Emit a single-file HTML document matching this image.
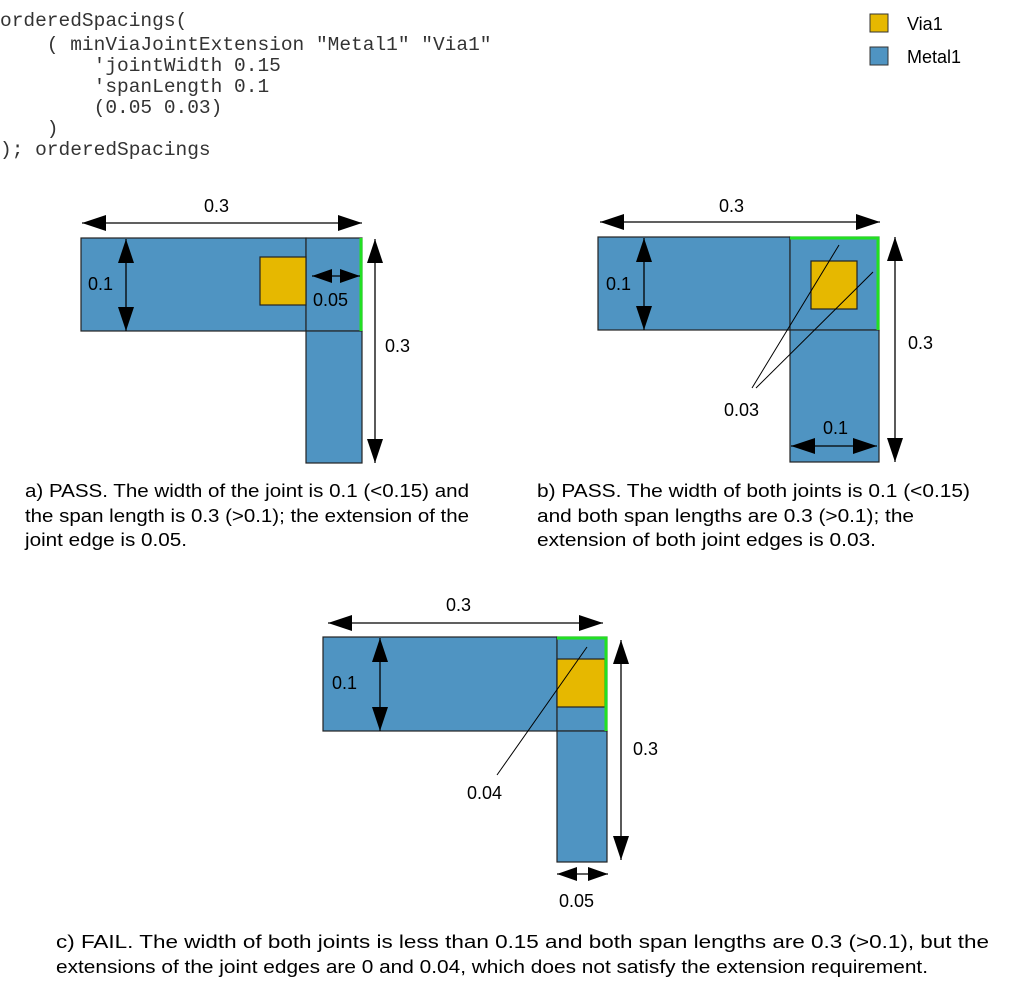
<!DOCTYPE html>
<html><head><meta charset="utf-8"><style>
html,body{margin:0;padding:0;background:#fff;}
svg{display:block;}
.m{font-family:"Liberation Mono",monospace;font-size:19.5px;fill:#333;}
.s{font-family:"Liberation Sans",sans-serif;font-size:18.5px;fill:#000;}
.l{font-family:"Liberation Sans",sans-serif;font-size:18px;fill:#000;}
</style></head><body>
<svg width="1013" height="999" viewBox="0 0 1013 999" xmlns="http://www.w3.org/2000/svg">
<defs>
<marker id="ah" viewBox="0 0 24 16" refX="24" refY="8" markerWidth="24" markerHeight="16" markerUnits="userSpaceOnUse" orient="auto-start-reverse"><path d="M0,0 L24,8 L0,16 Z" fill="#000"/></marker>
<marker id="as" viewBox="0 0 20 14" refX="20" refY="7" markerWidth="20" markerHeight="14" markerUnits="userSpaceOnUse" orient="auto-start-reverse"><path d="M0,0 L20,7 L0,14 Z" fill="#000"/></marker>
</defs>
<!-- code -->
<text class="m" x="0" y="26" xml:space="preserve">orderedSpacings(</text>
<text class="m" x="0" y="50" xml:space="preserve">    ( minViaJointExtension "Metal1" "Via1"</text>
<text class="m" x="0" y="71" xml:space="preserve">        'jointWidth 0.15</text>
<text class="m" x="0" y="92" xml:space="preserve">        'spanLength 0.1</text>
<text class="m" x="0" y="113" xml:space="preserve">        (0.05 0.03)</text>
<text class="m" x="0" y="134" xml:space="preserve">    )</text>
<text class="m" x="0" y="155" xml:space="preserve">); orderedSpacings</text>
<!-- legend -->
<rect x="870" y="14" width="18" height="18" fill="#e6b800" stroke="#333"/>
<text class="l" x="907" y="30">Via1</text>
<rect x="870" y="47" width="18" height="18" fill="#4f94c2" stroke="#333"/>
<text class="l" x="907" y="63">Metal1</text>

<!-- a -->
<g stroke="#222" stroke-width="1.2" fill="#4f94c2">
<rect x="81" y="238" width="225" height="93"/>
<rect x="306" y="238" width="56" height="93"/>
<rect x="306" y="331" width="56" height="132"/>
<rect x="260" y="257" width="46" height="48" fill="#e6b800"/>
</g>
<line x1="361" y1="238" x2="361" y2="331" stroke="#22e022" stroke-width="3"/>
<g stroke="#000" stroke-width="1.3">
<line x1="82" y1="223" x2="362" y2="223" marker-start="url(#ah)" marker-end="url(#ah)"/>
<line x1="126" y1="239" x2="126" y2="331" marker-start="url(#ah)" marker-end="url(#ah)"/>
<line x1="312" y1="276" x2="360" y2="276" marker-start="url(#as)" marker-end="url(#as)"/>
<line x1="375" y1="239" x2="375" y2="463" marker-start="url(#ah)" marker-end="url(#ah)"/>
</g>
<text class="l" x="204" y="212">0.3</text>
<text class="l" x="88" y="290">0.1</text>
<text class="l" x="313" y="306">0.05</text>
<text class="l" x="385" y="352">0.3</text>
<text class="s" x="25" y="497" textLength="444" lengthAdjust="spacingAndGlyphs">a) PASS. The width of the joint is 0.1 (&lt;0.15) and</text>
<text class="s" x="25" y="522" textLength="444" lengthAdjust="spacingAndGlyphs">the span length is 0.3 (&gt;0.1); the extension of the</text>
<text class="s" x="25" y="546" textLength="162" lengthAdjust="spacingAndGlyphs">joint edge is 0.05.</text>

<!-- b -->
<g stroke="#222" stroke-width="1.2" fill="#4f94c2">
<rect x="598" y="237" width="192" height="93"/>
<rect x="790" y="237" width="89" height="93"/>
<rect x="790" y="330" width="89" height="132"/>
<rect x="811" y="261" width="46" height="48" fill="#e6b800"/>
</g>
<polyline points="790,238 878,238 878,330" fill="none" stroke="#22e022" stroke-width="3"/>
<g stroke="#000" stroke-width="1.3">
<line x1="600" y1="222" x2="880" y2="222" marker-start="url(#ah)" marker-end="url(#ah)"/>
<line x1="644" y1="238" x2="644" y2="330" marker-start="url(#ah)" marker-end="url(#ah)"/>
<line x1="895" y1="237" x2="895" y2="462" marker-start="url(#ah)" marker-end="url(#ah)"/>
<line x1="791" y1="446" x2="877" y2="446" marker-start="url(#ah)" marker-end="url(#ah)"/>
<line x1="752" y1="388" x2="839" y2="245" stroke-width="1"/>
<line x1="756" y1="388" x2="873" y2="272" stroke-width="1"/>
</g>
<text class="l" x="719" y="212">0.3</text>
<text class="l" x="606" y="290">0.1</text>
<text class="l" x="908" y="349">0.3</text>
<text class="l" x="823" y="434">0.1</text>
<text class="l" x="724" y="416">0.03</text>
<text class="s" x="537" y="497" textLength="433" lengthAdjust="spacingAndGlyphs">b) PASS. The width of both joints is 0.1 (&lt;0.15)</text>
<text class="s" x="537" y="522" textLength="377" lengthAdjust="spacingAndGlyphs">and both span lengths are 0.3 (&gt;0.1); the</text>
<text class="s" x="537" y="546" textLength="339" lengthAdjust="spacingAndGlyphs">extension of both joint edges is 0.03.</text>

<!-- c -->
<g stroke="#222" stroke-width="1.2" fill="#4f94c2">
<rect x="323" y="637" width="234" height="94"/>
<rect x="557" y="637" width="50" height="94"/>
<rect x="557" y="731" width="50" height="131"/>
<rect x="557" y="659" width="48" height="48" fill="#e6b800"/>
</g>
<polyline points="557,638 606,638 606,731" fill="none" stroke="#22e022" stroke-width="3"/>
<g stroke="#000" stroke-width="1.3">
<line x1="328" y1="623" x2="603" y2="623" marker-start="url(#ah)" marker-end="url(#ah)"/>
<line x1="380" y1="638" x2="380" y2="731" marker-start="url(#ah)" marker-end="url(#ah)"/>
<line x1="621" y1="640" x2="621" y2="860" marker-start="url(#ah)" marker-end="url(#ah)"/>
<line x1="557" y1="874" x2="608" y2="874" marker-start="url(#as)" marker-end="url(#as)"/>
<line x1="497" y1="775" x2="587" y2="647" stroke-width="1"/>
</g>
<text class="l" x="446" y="611">0.3</text>
<text class="l" x="332" y="689">0.1</text>
<text class="l" x="633" y="755">0.3</text>
<text class="l" x="467" y="799">0.04</text>
<text class="l" x="559" y="907">0.05</text>
<text class="s" x="56" y="948" textLength="933" lengthAdjust="spacingAndGlyphs">c) FAIL. The width of both joints is less than 0.15 and both span lengths are 0.3 (&gt;0.1), but the</text>
<text class="s" x="56" y="973" textLength="872" lengthAdjust="spacingAndGlyphs">extensions of the joint edges are 0 and 0.04, which does not satisfy the extension requirement.</text>
</svg>
</body></html>
